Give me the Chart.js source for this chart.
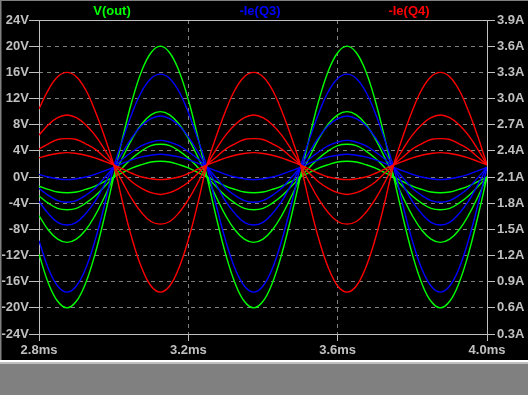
<!DOCTYPE html>
<html><head><meta charset="utf-8">
<script src="https://cdn.jsdelivr.net/npm/chart.js@4.4.1/dist/chart.umd.min.js"></script>
<style>
html,body{margin:0;padding:0;background:#808080;width:528px;height:395px;overflow:hidden}
#wrap{position:absolute;left:0;top:0;width:528px;height:360px;background:#000}
#c{position:absolute;left:0;top:0}
.b{position:absolute}
</style></head><body>
<div id="wrap"><canvas id="c" width="528" height="360"></canvas></div>
<div class="b" style="left:0;top:0;width:528px;height:1px;background:#808080"></div>
<div class="b" style="left:0;top:0;width:1px;height:360px;background:#808080"></div>
<div class="b" style="left:1px;top:1px;width:1px;height:359px;background:#404040"></div>
<div class="b" style="left:0;top:360px;width:528px;height:2px;background:#ffffff"></div>
<div class="b" style="left:0;top:362px;width:528px;height:2px;background:#c0c0c0"></div>
<script>
const times = [2.8,2.825,2.85,2.875,2.9,2.925,2.95,2.975,3.0,3.025,3.05,3.075,3.1,3.125,3.15,3.175,3.2,3.225,3.25,3.275,3.3,3.325,3.35,3.375,3.4,3.425,3.45,3.475,3.5,3.525,3.55,3.575,3.6,3.625,3.65,3.675,3.7,3.725,3.75,3.775,3.8,3.825,3.85,3.875,3.9,3.925,3.95,3.975,4.0];

const seriesNames = ['V(out)', '-Ie(Q3)', '-Ie(Q4)'];

// V(out), volts, one trace per step
const vout1 = [-11.8,-16.2,-19,-20,-19,-16.2,-11.8,-6.2,0,6.2,11.8,16.2,19,20,19,16.2,11.8,6.2,0,-6.2,-11.8,-16.2,-19,-20,-19,-16.2,-11.8,-6.2,0,6.2,11.8,16.2,19,20,19,16.2,11.8,6.2,0,-6.2,-11.8,-16.2,-19,-20,-19,-16.2,-11.8,-6.2,0];
const vout2 = [-5.9,-8.1,-9.5,-10,-9.5,-8.1,-5.9,-3.1,0,3.1,5.9,8.1,9.5,10,9.5,8.1,5.9,3.1,0,-3.1,-5.9,-8.1,-9.5,-10,-9.5,-8.1,-5.9,-3.1,0,3.1,5.9,8.1,9.5,10,9.5,8.1,5.9,3.1,0,-3.1,-5.9,-8.1,-9.5,-10,-9.5,-8.1,-5.9,-3.1,0];
const vout3 = [-2.9,-4,-4.8,-5,-4.8,-4,-2.9,-1.5,0,1.5,2.9,4,4.8,5,4.8,4,2.9,1.5,0,-1.5,-2.9,-4,-4.8,-5,-4.8,-4,-2.9,-1.5,0,1.5,2.9,4,4.8,5,4.8,4,2.9,1.5,0,-1.5,-2.9,-4,-4.8,-5,-4.8,-4,-2.9,-1.5,0];
const vout4 = [-1.4,-1.9,-2.3,-2.4,-2.3,-1.9,-1.4,-0.7,0,0.7,1.4,1.9,2.3,2.4,2.3,1.9,1.4,0.7,0,-0.7,-1.4,-1.9,-2.3,-2.4,-2.3,-1.9,-1.4,-0.7,0,0.7,1.4,1.9,2.3,2.4,2.3,1.9,1.4,0.7,0,-0.7,-1.4,-1.9,-2.3,-2.4,-2.3,-1.9,-1.4,-0.7,0];

// -Ie(Q3), amps
const q3_1 = [1.37,1.05,0.85,0.78,0.85,1.05,1.37,1.77,2.21,2.54,2.84,3.08,3.23,3.28,3.23,3.08,2.84,2.54,2.21,1.77,1.37,1.05,0.85,0.78,0.85,1.05,1.37,1.77,2.21,2.54,2.84,3.08,3.23,3.28,3.23,3.08,2.84,2.54,2.21,1.77,1.37,1.05,0.85,0.78,0.85,1.05,1.37,1.77,2.21];
const q3_2 = [1.82,1.68,1.58,1.55,1.58,1.68,1.82,2.01,2.21,2.39,2.56,2.69,2.77,2.80,2.77,2.69,2.56,2.39,2.21,2.01,1.82,1.68,1.58,1.55,1.58,1.68,1.82,2.01,2.21,2.39,2.56,2.69,2.77,2.80,2.77,2.69,2.56,2.39,2.21,2.01,1.82,1.68,1.58,1.55,1.58,1.68,1.82,2.01,2.21];
const q3_3 = [1.97,1.89,1.83,1.81,1.83,1.89,1.97,2.09,2.21,2.31,2.39,2.46,2.50,2.52,2.50,2.46,2.39,2.31,2.21,2.09,1.97,1.89,1.83,1.81,1.83,1.89,1.97,2.09,2.21,2.31,2.39,2.46,2.50,2.52,2.50,2.46,2.39,2.31,2.21,2.09,1.97,1.89,1.83,1.81,1.83,1.89,1.97,2.09,2.21];
const q3_4 = [2.13,2.10,2.08,2.07,2.08,2.10,2.13,2.17,2.21,2.26,2.30,2.33,2.35,2.36,2.35,2.33,2.30,2.26,2.21,2.17,2.13,2.10,2.08,2.07,2.08,2.10,2.13,2.17,2.21,2.26,2.30,2.33,2.35,2.36,2.35,2.33,2.30,2.26,2.21,2.17,2.13,2.10,2.08,2.07,2.08,2.10,2.13,2.17,2.21];

// -Ie(Q4), amps
const q4_1 = [2.88,3.10,3.25,3.30,3.25,3.10,2.86,2.57,2.24,1.79,1.38,1.06,0.85,0.78,0.85,1.06,1.38,1.79,2.24,2.57,2.86,3.10,3.25,3.30,3.25,3.10,2.86,2.57,2.24,1.79,1.38,1.06,0.85,0.78,0.85,1.06,1.38,1.79,2.24,2.57,2.86,3.10,3.25,3.30,3.25,3.10,2.86,2.57,2.24];
const q4_2 = [2.58,2.70,2.78,2.81,2.78,2.70,2.58,2.42,2.24,2.03,1.84,1.69,1.59,1.56,1.59,1.69,1.84,2.03,2.24,2.42,2.58,2.70,2.78,2.81,2.78,2.70,2.58,2.42,2.24,2.03,1.84,1.69,1.59,1.56,1.59,1.69,1.84,2.03,2.24,2.42,2.58,2.70,2.78,2.81,2.78,2.70,2.58,2.42,2.24];
const q4_3 = [2.42,2.48,2.53,2.54,2.53,2.48,2.42,2.33,2.24,2.14,2.04,1.97,1.92,1.90,1.92,1.97,2.04,2.14,2.24,2.33,2.42,2.48,2.53,2.54,2.53,2.48,2.42,2.33,2.24,2.14,2.04,1.97,1.92,1.90,1.92,1.97,2.04,2.14,2.24,2.33,2.42,2.48,2.53,2.54,2.53,2.48,2.42,2.33,2.24];
const q4_4 = [2.32,2.35,2.37,2.38,2.37,2.35,2.32,2.28,2.24,2.19,2.14,2.10,2.08,2.07,2.08,2.10,2.14,2.19,2.24,2.28,2.32,2.35,2.37,2.38,2.37,2.35,2.32,2.28,2.24,2.19,2.14,2.10,2.08,2.07,2.08,2.10,2.14,2.19,2.24,2.28,2.32,2.35,2.37,2.38,2.37,2.35,2.32,2.28,2.24];

const xTicks = [2.8, 3.2, 3.6, 4.0];
const voltTicks = [-24,-20,-16,-12,-8,-4,0,4,8,12,16,20,24];
const ampTicks = [0.3,0.6,0.9,1.2,1.5,1.8,2.1,2.4,2.7,3.0,3.3,3.6,3.9];

const GREEN = '#00ff00', BLUE = '#0000ff', RED = '#ff0000';
const TXT = '#c0c0c0', GRID = '#808080';
const FONT = {family: '"Liberation Sans", Arial, sans-serif', size: 13, weight: 'bold'};

const pts = arr => arr.map((y, i) => ({x: times[i], y: y}));
const ds = (arr, color, axis) => ({data: pts(arr), borderColor: color, borderWidth: 1.4, pointRadius: 0, tension: 0.4, fill: false, yAxisID: axis});

const titlePlugin = {
  id: 'titles',
  afterDraw(chart) {
    const ctx = chart.ctx;
    ctx.save();
    ctx.font = 'bold 13px "Liberation Sans", Arial, sans-serif';
    ctx.textAlign = 'center';
    ctx.textBaseline = 'middle';
    const cols = [GREEN, BLUE, RED];
    const xs = [112, 260, 409];
    seriesNames.forEach((n, i) => { ctx.fillStyle = cols[i]; ctx.fillText(n, xs[i], 11); });
    ctx.restore();
  }
};
const framePlugin = {
  id: 'frame',
  beforeDatasetsDraw(chart) {
    const a = chart.chartArea, ctx = chart.ctx;
    ctx.save();
    ctx.strokeStyle = TXT; ctx.lineWidth = 1; ctx.setLineDash([]);
    ctx.strokeRect(Math.round(a.left) + 0.5, Math.round(a.top) + 0.5, Math.round(a.right - a.left), Math.round(a.bottom - a.top));
    ctx.restore();
  }
};

new Chart(document.getElementById('c'), {
  type: 'line',
  data: {datasets: [
    ds(q4_1, RED, 'yR'), ds(q4_2, RED, 'yR'), ds(q4_3, RED, 'yR'), ds(q4_4, RED, 'yR'),
    ds(q3_1, BLUE, 'yR'), ds(q3_2, BLUE, 'yR'), ds(q3_3, BLUE, 'yR'), ds(q3_4, BLUE, 'yR'),
    ds(vout1, GREEN, 'yL'), ds(vout2, GREEN, 'yL'), ds(vout3, GREEN, 'yL'), ds(vout4, GREEN, 'yL')
  ]},
  options: {
    responsive: false, animation: false, devicePixelRatio: 1, events: [],
    layout: {padding: {top: 20, left: 0, right: 0, bottom: 0}},
    plugins: {legend: {display: false}, tooltip: {enabled: false}, title: {display: false}},
    scales: {
      x: {
        type: 'linear', min: 2.8, max: 4.0,
        afterBuildTicks: s => { s.ticks = xTicks.map(v => ({value: v})); },
        afterFit: s => { s.height = 26; },
        ticks: {color: TXT, font: FONT, padding: 2, maxRotation: 0, autoSkip: false, callback: v => Number(v).toFixed(1) + 'ms'},
        grid: {color: GRID, tickColor: TXT, tickLength: 7, lineWidth: 1},
        border: {display: false, dash: [4, 4]}
      },
      yL: {
        type: 'linear', position: 'left', min: -24, max: 24,
        afterBuildTicks: s => { s.ticks = voltTicks.map(v => ({value: v})); },
        afterFit: s => { s.width = 39; },
        ticks: {color: TXT, font: FONT, padding: 0, callback: v => v + 'V'},
        grid: {color: GRID, tickColor: TXT, tickLength: 10, lineWidth: 1},
        border: {display: false, dash: [4, 4]}
      },
      yR: {
        type: 'linear', position: 'right', min: 0.3, max: 3.9,
        afterBuildTicks: s => { s.ticks = ampTicks.map(v => ({value: v})); },
        afterFit: s => { s.width = 41; },
        ticks: {color: TXT, font: FONT, padding: 2, callback: v => Number(v).toFixed(1) + 'A'},
        grid: {drawOnChartArea: false, color: GRID, tickColor: TXT, tickLength: 8, lineWidth: 1},
        border: {display: false}
      }
    }
  },
  plugins: [titlePlugin, framePlugin]
});
</script></body></html>
